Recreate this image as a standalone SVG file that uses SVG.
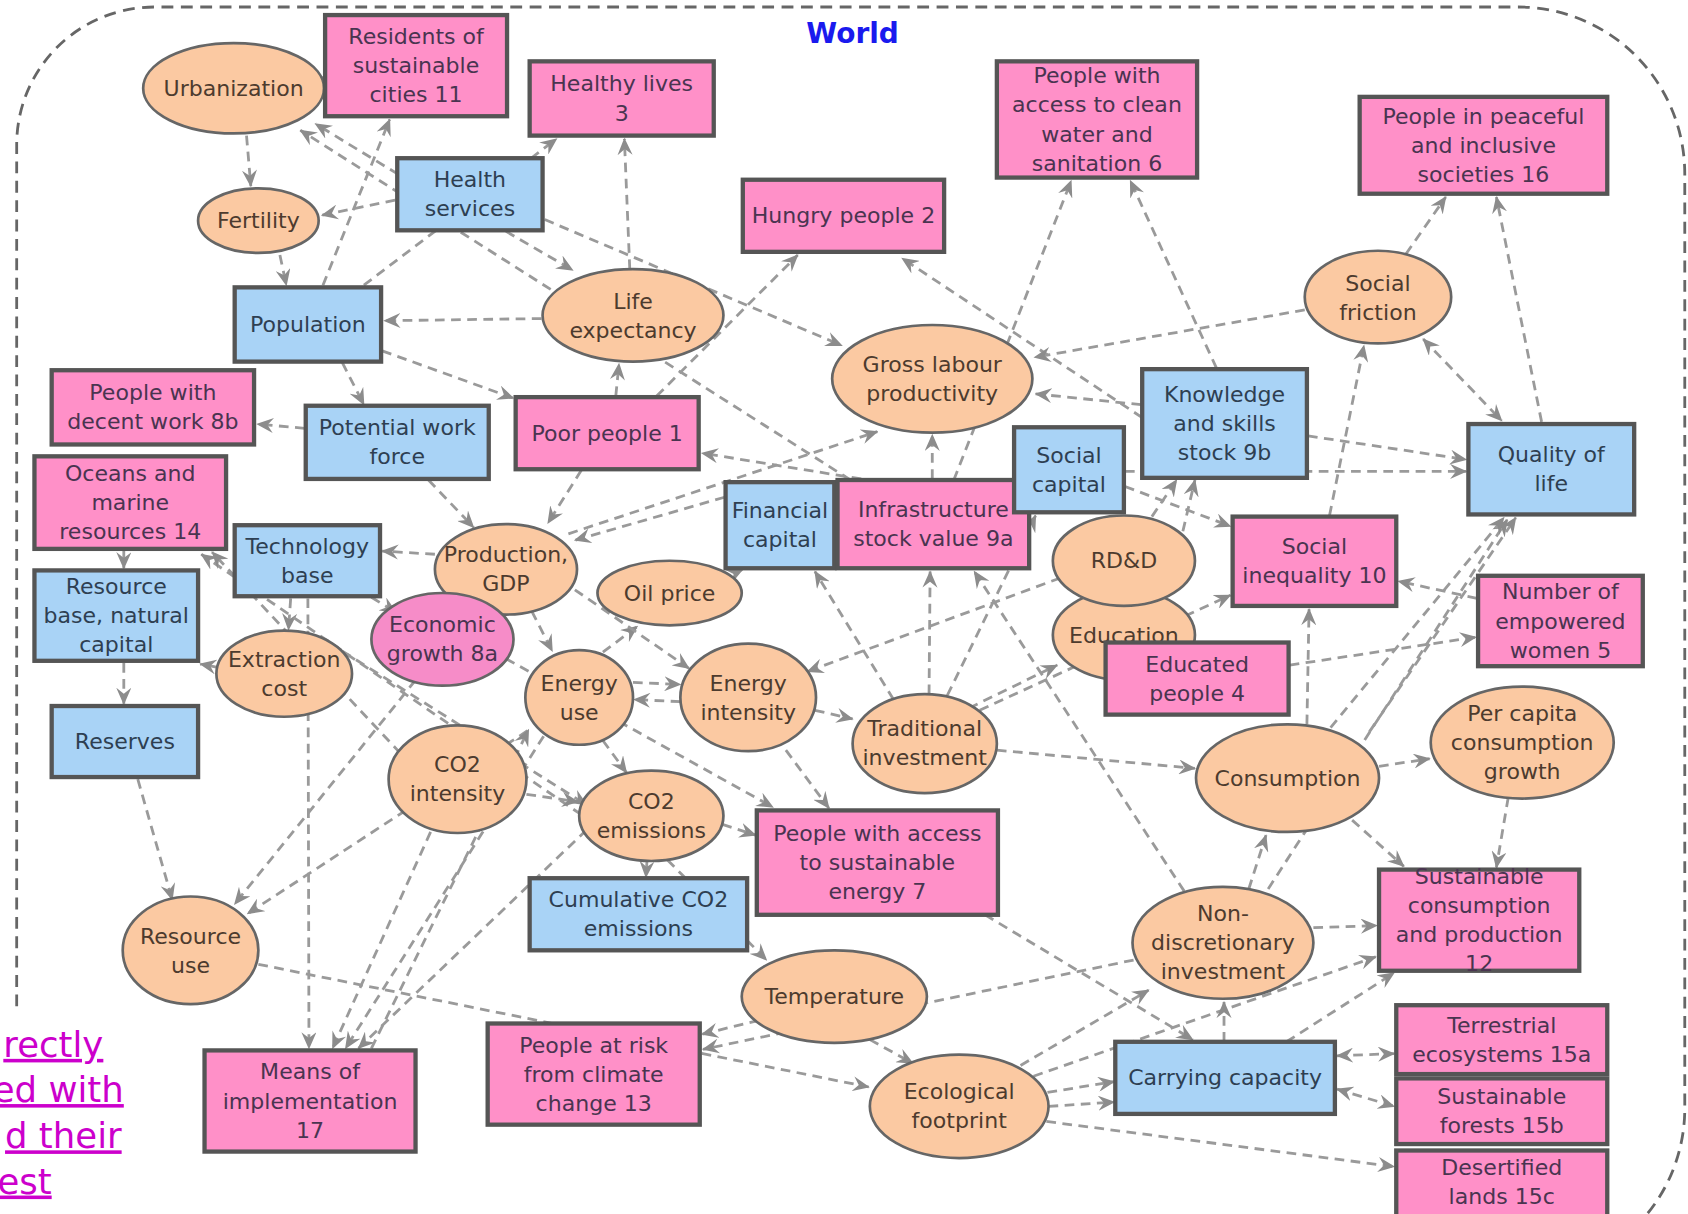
<svg xmlns="http://www.w3.org/2000/svg" width="1688" height="1214" viewBox="0 0 1688 1214">
<style>
.t{font-family:"DejaVu Sans","Liberation Sans",sans-serif;font-size:20.5px;text-anchor:middle}
.tp{fill:#4a3450}.tb{fill:#2e3f52}.to{fill:#4d3b2e}
.pk{fill:#FF90C8;stroke:#555;stroke-width:4}
.bl{fill:#A9D3F6;stroke:#555;stroke-width:4}
.or{fill:#FBC9A2;stroke:#666;stroke-width:2.5}
.pe{fill:#F68CC8;stroke:#666;stroke-width:2.5}
.c{fill:none;stroke:#9a9a9a;stroke-width:2.6;stroke-dasharray:9 6;marker-end:url(#arr)}
.bi{marker-start:url(#arr)}
.frame{fill:none;stroke:#666;stroke-width:2.6;stroke-dasharray:11 7}
.lnk{font-family:"DejaVu Sans","Liberation Sans",sans-serif;font-size:33px;fill:#CC00CC;text-anchor:end;text-decoration:underline}
</style>
<defs>
<marker id="arr" viewBox="0 0 16 14" refX="15" refY="7" markerWidth="16" markerHeight="14" markerUnits="userSpaceOnUse" orient="auto-start-reverse">
<path d="M0,0 L16,7 L0,14 L5.5,7 Z" fill="#8c8c8c"/>
</marker>
</defs>
<rect x="0" y="0" width="1688" height="1214" fill="#ffffff"/>
<g transform="scale(1.07653,1.07624)">
<path class="frame" d="M15.5,935 V134 A128,128 0 0 1 143.5,6.5 H1410 A155,155 0 0 1 1565,161.5 V1030 A155,155 0 0 1 1410,1185"/>
<text x="792" y="40" style="font-family:'DejaVu Sans','Liberation Sans',sans-serif;font-size:26px;font-weight:bold;fill:#1a1aee;text-anchor:middle">World</text>
<g id="link-text">
<text class="lnk" x="96" y="982">rectly</text>
<text class="lnk" x="115" y="1024">ed with</text>
<text class="lnk" x="113" y="1067">d their</text>
<text class="lnk" x="48" y="1109">est</text>
</g>
<g id="connectors">
<path class="c" d="M282,74 L301,72"/>
<path class="c" d="M229,126 L233,173"/>
<path class="c" d="M260,237 L266,265"/>
<path class="c" d="M367,186 L299,200"/>
<path class="c" d="M370,162 L293,115"/>
<path class="c" d="M790,446 L279,121"/>
<path class="c" d="M300,265 L362,111"/>
<path class="c" d="M338,265 L517,129"/>
<path class="c" d="M585,250 L580,129"/>
<path class="c" d="M503,296 L357,298"/>
<path class="c" d="M610,368 L741,237"/>
<path class="c" d="M1061,388 L838,240"/>
<path class="c" d="M886,446 L995,168"/>
<path class="c" d="M1130,342 L1050,168"/>
<path class="c" d="M1212,288 L961,332"/>
<path class="c" d="M1306,236 L1343,183"/>
<path class="c bi" d="M1322,315 L1395,391"/>
<path class="c" d="M1432,392 L1390,183"/>
<path class="c" d="M1235,479 L1267,321"/>
<path class="c" d="M1060,376 L962,366"/>
<path class="c" d="M1215,405 L1362,427"/>
<path class="c" d="M1045,438 L1362,438"/>
<path class="c" d="M506,204 L782,321"/>
<path class="c" d="M470,215 L532,251"/>
<path class="c" d="M355,326 L477,370"/>
<path class="c" d="M318,337 L338,376"/>
<path class="c" d="M283,398 L239,394"/>
<path class="c" d="M398,446 L440,490"/>
<path class="c" d="M540,437 L509,486"/>
<path class="c" d="M673,462 L534,502"/>
<path class="c" d="M528,496 L815,401"/>
<path class="c" d="M800,445 L652,421"/>
<path class="c" d="M866,445 L866,404"/>
<path class="c" d="M404,515 L355,512"/>
<path class="c" d="M345,555 L368,569"/>
<path class="c" d="M270,556 L268,585"/>
<path class="c" d="M115,511 L115,528"/>
<path class="c" d="M540,757 L187,515"/>
<path class="c" d="M372,700 L197,513"/>
<path class="c" d="M202,620 L186,617"/>
<path class="c" d="M115,616 L115,654"/>
<path class="c" d="M128,724 L160,836"/>
<path class="c" d="M286,556 L287,974"/>
<path class="c" d="M400,773 L309,974"/>
<path class="c" d="M545,771 L333,974"/>
<path class="c" d="M505,684 L321,974"/>
<path class="c" d="M386,632 L218,840"/>
<path class="c" d="M490,679 L230,849"/>
<path class="c" d="M240,896 L807,1010"/>
<path class="c" d="M705,948 L652,961"/>
<path class="c" d="M1053,892 L653,975"/>
<path class="c" d="M620,799 L712,892"/>
<path class="c" d="M601,800 L600,815"/>
<path class="c" d="M671,766 L702,776"/>
<path class="c" d="M808,966 L848,988"/>
<path class="c" d="M948,990 L1067,920"/>
<path class="c" d="M973,1015 L1035,1005"/>
<path class="c" d="M974,1028 L1035,1024"/>
<path class="c" d="M972,1042 L1295,1084"/>
<path class="c" d="M960,1000 L1278,889"/>
<path class="c" d="M1195,968 L1295,904"/>
<path class="c" d="M1137,968 L1137,931"/>
<path class="c" d="M1160,826 L1176,776"/>
<path class="c" d="M1178,826 L1400,483"/>
<path class="c" d="M1220,862 L1279,860"/>
<path class="c" d="M1256,762 L1304,805"/>
<path class="c" d="M1401,741 L1390,806"/>
<path class="c" d="M1281,712 L1328,705"/>
<path class="c" d="M926,697 L1110,714"/>
<path class="c" d="M1214,673 L1216,566"/>
<path class="c" d="M1236,676 L1397,481"/>
<path class="c" d="M1272,680 L1408,481"/>
<path class="c" d="M1198,618 L1371,592"/>
<path class="c" d="M910,660 L1143,553"/>
<path class="c" d="M1372,556 L1299,540"/>
<path class="c" d="M1045,452 L1143,489"/>
<path class="c" d="M1070,480 L1093,446"/>
<path class="c" d="M1085,552 L1110,446"/>
<path class="c" d="M863,645 L864,531"/>
<path class="c" d="M830,650 L757,531"/>
<path class="c" d="M1100,828 L905,531"/>
<path class="c" d="M900,658 L982,618"/>
<path class="c" d="M880,646 L962,479"/>
<path class="c" d="M757,660 L792,668"/>
<path class="c" d="M588,634 L632,636"/>
<path class="c" d="M632,652 L589,650"/>
<path class="c" d="M560,606 L592,582"/>
<path class="c" d="M494,568 L513,605"/>
<path class="c" d="M345,974 L491,678"/>
<path class="c" d="M489,738 L537,745"/>
<path class="c" d="M560,688 L582,718"/>
<path class="c" d="M470,612 L718,750"/>
<path class="c" d="M730,697 L770,751"/>
<path class="c bi" d="M1242,981 L1295,979"/>
<path class="c bi" d="M1242,1012 L1295,1028"/>
<path class="c" d="M915,850 L1108,966"/>
<path class="c" d="M985,537 L750,624"/>
<path class="c" d="M534,548 L640,621"/>
<path class="c" d="M318,605 L545,748"/>
<path class="c" d="M668,540 L690,529"/>
<path class="c" d="M572,368 L575,338"/>
</g>
<g id="n-urbanization"><ellipse class="or" cx="217" cy="82" rx="84" ry="42"/><text class="t to" x="217" y="89">Urbanization</text></g>
<g id="n-residents"><rect class="pk" x="302" y="14" width="169" height="94"/><text class="t tp"><tspan x="386.5" y="41">Residents of</tspan><tspan x="386.5" y="68">sustainable</tspan><tspan x="386.5" y="95">cities 11</tspan></text></g>
<g id="n-healthy"><rect class="pk" x="492" y="57" width="171" height="69"/><text class="t tp"><tspan x="577.5" y="85">Healthy lives</tspan><tspan x="577.5" y="112">3</tspan></text></g>
<g id="n-healthsvc"><rect class="bl" x="369" y="147" width="135" height="67"/><text class="t tb"><tspan x="436.5" y="174">Health</tspan><tspan x="436.5" y="201">services</tspan></text></g>
<g id="n-hungry"><rect class="pk" x="690" y="167" width="187" height="67"/><text class="t tp" x="783.5" y="207.5">Hungry people 2</text></g>
<g id="n-water"><rect class="pk" x="926" y="57" width="186" height="108"/><text class="t tp"><tspan x="1019" y="77.5">People with</tspan><tspan x="1019" y="104.5">access to clean</tspan><tspan x="1019" y="131.5">water and</tspan><tspan x="1019" y="158.5">sanitation 6</tspan></text></g>
<g id="n-peace"><rect class="pk" x="1263" y="90" width="230" height="90"/><text class="t tp"><tspan x="1378" y="115">People in peaceful</tspan><tspan x="1378" y="142">and inclusive</tspan><tspan x="1378" y="169">societies 16</tspan></text></g>
<g id="n-fertility"><ellipse class="or" cx="240" cy="205" rx="56" ry="30"/><text class="t to" x="240" y="212">Fertility</text></g>
<g id="n-lifeexp"><ellipse class="or" cx="588" cy="293" rx="84" ry="43"/><text class="t to"><tspan x="588" y="287">Life</tspan><tspan x="588" y="314">expectancy</tspan></text></g>
<g id="n-population"><rect class="bl" x="218" y="267" width="136" height="69"/><text class="t tb" x="286" y="308.5">Population</text></g>
<g id="n-glp"><ellipse class="or" cx="866" cy="352" rx="93" ry="50"/><text class="t to"><tspan x="866" y="346">Gross labour</tspan><tspan x="866" y="373">productivity</tspan></text></g>
<g id="n-socfric"><ellipse class="or" cx="1280" cy="276" rx="68" ry="43"/><text class="t to"><tspan x="1280" y="270">Social</tspan><tspan x="1280" y="297">friction</tspan></text></g>
<g id="n-decent"><rect class="pk" x="48" y="344" width="188" height="69"/><text class="t tp"><tspan x="142" y="372">People with</tspan><tspan x="142" y="399">decent work 8b</tspan></text></g>
<g id="n-pwf"><rect class="bl" x="284" y="377" width="170" height="68"/><text class="t tb"><tspan x="369" y="404.5">Potential work</tspan><tspan x="369" y="431.5">force</tspan></text></g>
<g id="n-poor"><rect class="pk" x="479" y="369" width="170" height="67"/><text class="t tp" x="564" y="409.5">Poor people 1</text></g>
<g id="n-oceans"><rect class="pk" x="32" y="424" width="178" height="86"/><text class="t tp"><tspan x="121" y="447">Oceans and</tspan><tspan x="121" y="474">marine</tspan><tspan x="121" y="501">resources 14</tspan></text></g>
<g id="n-tech"><rect class="bl" x="218" y="488" width="135" height="66"/><text class="t tb"><tspan x="285.5" y="514.5">Technology</tspan><tspan x="285.5" y="541.5">base</tspan></text></g>
<g id="n-resbase"><rect class="bl" x="32" y="530" width="152" height="84"/><text class="t tb"><tspan x="108" y="552">Resource</tspan><tspan x="108" y="579">base, natural</tspan><tspan x="108" y="606">capital</tspan></text></g>
<g id="n-reserves"><rect class="bl" x="48" y="656" width="136" height="66"/><text class="t tb" x="116" y="696">Reserves</text></g>
<g id="n-production"><ellipse class="or" cx="470" cy="529" rx="66" ry="42"/><text class="t to"><tspan x="470" y="522.5">Production,</tspan><tspan x="470" y="549.5">GDP</tspan></text></g>
<g id="n-econgrowth"><ellipse class="pe" cx="411" cy="594" rx="66" ry="43"/><text class="t tp"><tspan x="411" y="587.5">Economic</tspan><tspan x="411" y="614.5">growth 8a</tspan></text></g>
<g id="n-oilprice"><ellipse class="or" cx="622" cy="551" rx="67" ry="30"/><text class="t to" x="622" y="558">Oil price</text></g>
<g id="n-extraction"><ellipse class="or" cx="264" cy="626" rx="63" ry="40"/><text class="t to"><tspan x="264" y="619.5">Extraction</tspan><tspan x="264" y="646.5">cost</tspan></text></g>
<g id="n-energyuse"><ellipse class="or" cx="538" cy="648" rx="50" ry="44"/><text class="t to"><tspan x="538" y="642">Energy</tspan><tspan x="538" y="669">use</tspan></text></g>
<g id="n-energyint"><ellipse class="or" cx="695" cy="648" rx="63" ry="50"/><text class="t to"><tspan x="695" y="642">Energy</tspan><tspan x="695" y="669">intensity</tspan></text></g>
<g id="n-tradinv"><ellipse class="or" cx="859" cy="691" rx="67" ry="46"/><text class="t to"><tspan x="859" y="684">Traditional</tspan><tspan x="859" y="711">investment</tspan></text></g>
<g id="n-co2int"><ellipse class="or" cx="425" cy="724" rx="64" ry="50"/><text class="t to"><tspan x="425" y="717.5">CO2</tspan><tspan x="425" y="744.5">intensity</tspan></text></g>
<g id="n-co2em"><ellipse class="or" cx="605" cy="758" rx="67" ry="42"/><text class="t to"><tspan x="605" y="751.5">CO2</tspan><tspan x="605" y="778.5">emissions</tspan></text></g>
<g id="n-fincap"><rect class="bl" x="674" y="448" width="101" height="80"/><text class="t tb"><tspan x="724.5" y="481.5">Financial</tspan><tspan x="724.5" y="508.5">capital</tspan></text></g>
<g id="n-infra"><rect class="pk" x="778" y="446" width="178" height="82"/><text class="t tp"><tspan x="867" y="480.5">Infrastructure</tspan><tspan x="867" y="507.5">stock value 9a</tspan></text></g>
<g id="n-soccap"><rect class="bl" x="942" y="397" width="102" height="79"/><text class="t tb"><tspan x="993" y="430">Social</tspan><tspan x="993" y="457">capital</tspan></text></g>
<g id="n-know"><rect class="bl" x="1061" y="343" width="153" height="101"/><text class="t tb"><tspan x="1137.5" y="373.5">Knowledge</tspan><tspan x="1137.5" y="400.5">and skills</tspan><tspan x="1137.5" y="427.5">stock 9b</tspan></text></g>
<g id="n-qol"><rect class="bl" x="1364" y="394" width="154" height="84"/><text class="t tb"><tspan x="1441" y="429.5">Quality of</tspan><tspan x="1441" y="456.5">life</tspan></text></g>
<g id="n-socineq"><rect class="pk" x="1145" y="480" width="152" height="83"/><text class="t tp"><tspan x="1221" y="515">Social</tspan><tspan x="1221" y="542">inequality 10</tspan></text></g>
<g id="n-women"><rect class="pk" x="1373" y="535" width="153" height="84"/><text class="t tp"><tspan x="1449.5" y="557">Number of</tspan><tspan x="1449.5" y="584">empowered</tspan><tspan x="1449.5" y="611">women 5</tspan></text></g>
<g id="n-education"><ellipse class="or" cx="1044" cy="590" rx="66" ry="42"/><text class="t to" x="1044" y="597">Education</text></g>
<g id="n-rdd"><ellipse class="or" cx="1044" cy="521" rx="66" ry="42"/><text class="t to" x="1044" y="528">RD&amp;D</text></g>
<g id="n-educated"><rect class="pk" x="1027" y="597" width="170" height="67"/><text class="t tp"><tspan x="1112" y="624">Educated</tspan><tspan x="1112" y="651">people 4</tspan></text></g>
<g id="n-consumption"><ellipse class="or" cx="1196" cy="723" rx="85" ry="50"/><text class="t to" x="1196" y="730">Consumption</text></g>
<g id="n-percapita"><ellipse class="or" cx="1414" cy="690" rx="85" ry="52"/><text class="t to"><tspan x="1414" y="670">Per capita</tspan><tspan x="1414" y="697">consumption</tspan><tspan x="1414" y="724">growth</tspan></text></g>
<g id="n-energy7"><rect class="pk" x="703" y="753" width="224" height="97"/><text class="t tp"><tspan x="815" y="781.5">People with access</tspan><tspan x="815" y="808.5">to sustainable</tspan><tspan x="815" y="835.5">energy 7</tspan></text></g>
<g id="n-cumco2"><rect class="bl" x="492" y="816" width="202" height="67"/><text class="t tb"><tspan x="593" y="843">Cumulative CO2</tspan><tspan x="593" y="870">emissions</tspan></text></g>
<g id="n-resuse"><ellipse class="or" cx="177" cy="883" rx="63" ry="50"/><text class="t to"><tspan x="177" y="877">Resource</tspan><tspan x="177" y="904">use</tspan></text></g>
<g id="n-temp"><ellipse class="or" cx="775" cy="926" rx="86" ry="43"/><text class="t to" x="775" y="933">Temperature</text></g>
<g id="n-nondisc"><ellipse class="or" cx="1136" cy="876" rx="84" ry="52"/><text class="t to"><tspan x="1136" y="855.5">Non-</tspan><tspan x="1136" y="882.5">discretionary</tspan><tspan x="1136" y="909.5">investment</tspan></text></g>
<g id="n-scp"><rect class="pk" x="1281" y="808" width="186" height="94"/><text class="t tp"><tspan x="1374" y="821.5">Sustainable</tspan><tspan x="1374" y="848.5">consumption</tspan><tspan x="1374" y="875.5">and production</tspan><tspan x="1374" y="902.5">12</tspan></text></g>
<g id="n-terr"><rect class="pk" x="1297" y="934" width="196" height="64"/><text class="t tp"><tspan x="1395" y="959.5">Terrestrial</tspan><tspan x="1395" y="986.5">ecosystems 15a</tspan></text></g>
<g id="n-forest"><rect class="pk" x="1297" y="1002" width="196" height="61"/><text class="t tp"><tspan x="1395" y="1026">Sustainable</tspan><tspan x="1395" y="1053">forests 15b</tspan></text></g>
<g id="n-desert"><rect class="pk" x="1297" y="1069" width="196" height="72"/><text class="t tp"><tspan x="1395" y="1091.5">Desertified</tspan><tspan x="1395" y="1118.5">lands 15c</tspan></text></g>
<g id="n-carrying"><rect class="bl" x="1036" y="968" width="204" height="67"/><text class="t tb" x="1138" y="1008.5">Carrying capacity</text></g>
<g id="n-ecofoot"><ellipse class="or" cx="891" cy="1028" rx="83" ry="48"/><text class="t to"><tspan x="891" y="1021.5">Ecological</tspan><tspan x="891" y="1048.5">footprint</tspan></text></g>
<g id="n-means"><rect class="pk" x="190" y="976" width="196" height="94"/><text class="t tp"><tspan x="288" y="1003">Means of</tspan><tspan x="288" y="1030">implementation</tspan><tspan x="288" y="1057">17</tspan></text></g>
<g id="n-risk"><rect class="pk" x="453" y="951" width="197" height="94"/><text class="t tp"><tspan x="551.5" y="978">People at risk</tspan><tspan x="551.5" y="1005">from climate</tspan><tspan x="551.5" y="1032">change 13</tspan></text></g>
</g>
</svg>
